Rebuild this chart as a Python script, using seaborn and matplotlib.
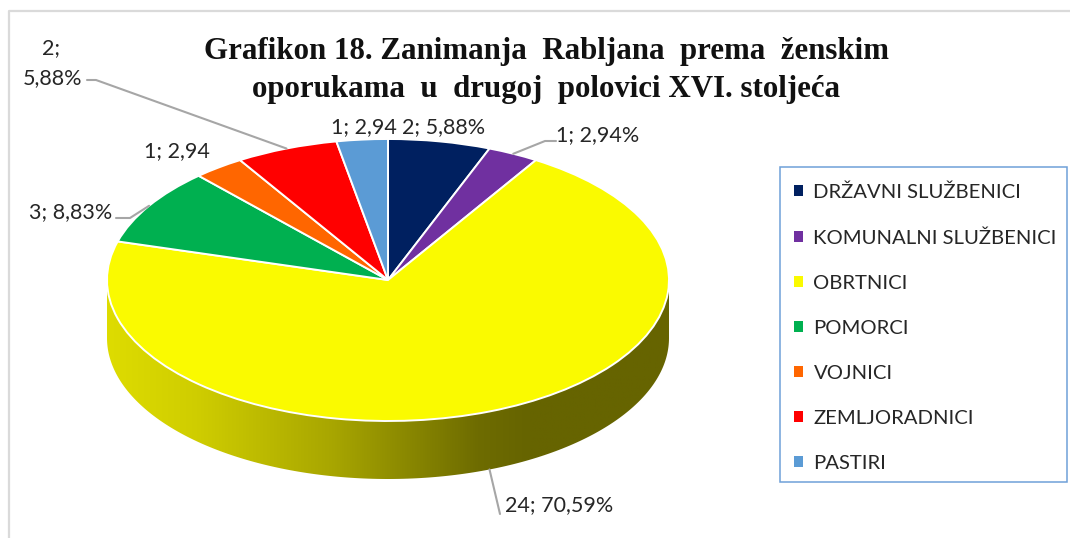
import matplotlib
matplotlib.use("Agg")
import matplotlib.pyplot as plt
import numpy as np
import seaborn as sns
from matplotlib.colors import LinearSegmentedColormap
from matplotlib.lines import Line2D
from matplotlib.patches import Polygon, Rectangle

# Data
categories = ["DRŽAVNI SLUŽBENICI", "KOMUNALNI SLUŽBENICI", "OBRTNICI", "POMORCI",
              "VOJNICI", "ZEMLJORADNICI", "PASTIRI"]
counts = [2, 1, 24, 3, 1, 2, 1]
labels = ["2; 5,88%", "1; 2,94%", "24; 70,59%", "3; 8,83%", "1; 2,94", "2;\n5,88%", "1; 2,94"]
colors = ["#002060", "#7030A0", "#FAFA00", "#00B050", "#FF6600", "#FF0000", "#5B9BD5"]
title_lines = ["Grafikon 18. Zanimanja  Rabljana  prema  ženskim",
               "oporukama  u  drugoj  polovici XVI. stoljeća"]

# Figure layout, in reference pixels
W, H = 1070, 538
CX, CY, RX, RY = 388, 280, 281, 141
DEPTH = 58 / RY

sns.set_theme(style="white")
plt.rcParams["font.family"] = ["Lato", "DejaVu Sans"]
TEXT = "#262626"
LEADER = "#A6A6A6"

fig = plt.figure(figsize=(W / 100, H / 100), dpi=100, facecolor="white")

# overlay in pixel coordinates for frame, texts and leader lines
over = fig.add_axes([0, 0, 1, 1], zorder=3)
over.set_xlim(0, W)
over.set_ylim(H, 0)
over.axis("off")
over.patch.set_alpha(0)

# pie axes: pie units -1..1 map onto the flattened ellipse
ax = fig.add_axes([(CX - RX) / W, (H - CY - RY) / H, 2 * RX / W, 2 * RY / H], zorder=2)
wedges, _ = ax.pie(counts, colors=colors, startangle=90, counterclock=False, radius=1,
                   wedgeprops={"edgecolor": "white", "linewidth": 1.4}, frame=False)
ax.set_aspect("auto")
ax.set_xlim(-1, 1)
ax.set_ylim(-1, 1)
ax.axis("off")

# side wall of the disc, a horizontal gradient clipped to the rim
theta = np.linspace(np.pi, 2 * np.pi, 200)
rim = np.column_stack([np.cos(theta), np.sin(theta)])
wall = np.vstack([rim, (rim + [0, -DEPTH])[::-1]])
side_cmap = LinearSegmentedColormap.from_list(
    "side", [(0, "#DEDC00"), (0.16, "#CFCD00"), (0.4, "#A8A600"), (0.66, "#6E6C00"), (0.75, "#666400"), (1, "#666400")])
side = ax.imshow(np.linspace(0, 1, 256)[None, :], extent=[-1, 1, -1 - DEPTH, 0], cmap=side_cmap,
                 aspect="auto", zorder=0)
clip = Polygon(wall, closed=True, transform=ax.transData)
side.set_clip_path(clip)
side.set_clip_box(fig.bbox)
ax.set_xlim(-1, 1)
ax.set_ylim(-1, 1)

# chart frame, only top and left survive the crop
over.add_line(Line2D([8.5, 8.5, W], [H, 11, 11], color="#DADADA", lw=1.6))

# title
for line, y in zip(title_lines, [51, 90]):
    over.text(546, y, line, family="Liberation Serif", weight="bold", fontsize=22.2, color="#111111",
              ha="center", va="center")

# data labels, positioned as in the reference
label_pos = [(402, 127, "left"), (556, 135, "left"), (505, 505, "left"), (112, 212, "right"),
             (210, 151, "right"), (82, 63, "right"), (397, 127, "right")]
for text, (x, y, ha) in zip(labels, label_pos):
    if "\n" in text:
        first, second = text.split("\n")
        over.text(51, 48, first, fontsize=15.5, color=TEXT, ha="center", va="center")
        over.text(x, 78, second, fontsize=15.5, color=TEXT, ha="right", va="center")
    else:
        over.text(x, y, text, fontsize=15.5, color=TEXT, ha=ha, va="center")

# leader lines start on the wedge mid angle, elbow points go to the labels
mids = (np.cumsum(counts) - np.array(counts) / 2) / sum(counts) * 2 * np.pi
leaders = {1: [(545, 141), (556, 141)], 2: [(500, 514)], 3: [(130, 218), (116, 218)], 5: [(96, 80), (87, 80)]}
for i, tail in leaders.items():
    x0 = CX + RX * np.sin(mids[i])
    y0 = CY - RY * np.cos(mids[i]) + (58 if i == 2 else 0)
    xs, ys = zip((x0, y0), *tail)
    over.add_line(Line2D(xs, ys, color=LEADER, lw=1.5))

# legend, its box is drawn apart because the padding is not even in the reference
over.add_patch(Rectangle((780, 167), 287, 315, facecolor="white", edgecolor="#6FA0D8", lw=1.1))
leg = over.legend(wedges, categories, loc="upper left", bbox_to_anchor=(779 / W, 1 - 169 / H),
                  bbox_transform=fig.transFigure, fontsize=14.6, frameon=False,
                  labelcolor=TEXT, borderaxespad=0, labelspacing=1.38, handlelength=0.44,
                  handleheight=0.44, handletextpad=0.54, borderpad=0.72)
for h in leg.legend_handles:
    h.set_edgecolor("none")

fig.savefig("out.png", dpi=100)
